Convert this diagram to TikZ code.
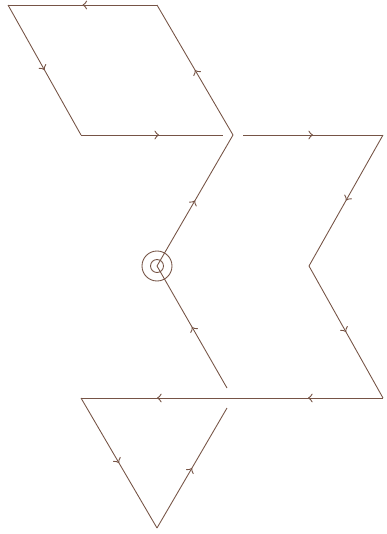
\documentclass[tikz,border=0pt]{standalone}
\usetikzlibrary{decorations.markings}
\definecolor{loopbrown}{RGB}{118,84,70}
\tikzset{
  midarrow/.style={postaction={decorate,decoration={markings,
    mark=at position #1 with {\arrow[scale=1.3]{>}}}}},
  midarrow/.default=0.5,
  contour/.style={loopbrown,line width=0.5pt}
}
\begin{document}
\begin{tikzpicture}
  \useasboundingbox (0,0) rectangle (7.74,-10.68);
  % top parallelogram
  \coordinate (pa) at (0.16,-0.10);
  \coordinate (pb) at (3.14,-0.10);
  \coordinate (pc) at (1.62,-2.70);
  \coordinate (pd) at (4.46,-2.70);
  \coordinate (v) at (4.66,-2.70);
  % insertion point
  \coordinate (o) at (3.14,-5.32);
  \coordinate (q) at (4.54,-7.76);
  % right contour
  \coordinate (r) at (4.86,-2.70);
  \coordinate (s) at (7.66,-2.70);
  \coordinate (t) at (6.18,-5.32);
  \coordinate (u) at (7.66,-7.96);
  \coordinate (m) at (4.66,-7.96);
  % bottom triangle
  \coordinate (w) at (1.62,-7.96);
  \coordinate (bt) at (3.14,-10.56);
  \coordinate (tr) at (4.54,-8.16);
  \begin{scope}[contour]
    \draw[midarrow] (pb) -- (pa);
    \draw[midarrow] (pa) -- (pc);
    \draw[midarrow=0.55] (pc) -- (pd);
    \draw[midarrow] (v) -- (pb);
    \draw[midarrow] (o) -- (v);
    \draw[midarrow] (q) -- (o);
    \draw[midarrow] (r) -- (s);
    \draw[midarrow] (s) -- (t);
    \draw[midarrow] (t) -- (u);
    \draw[midarrow] (u) -- (m);
    \draw[midarrow] (m) -- (w);
    \draw[midarrow] (w) -- (bt);
    \draw[midarrow] (bt) -- (tr);
    \draw (o) circle (0.30);
    \draw (o) circle (0.13);
  \end{scope}
\end{tikzpicture}
\end{document}
